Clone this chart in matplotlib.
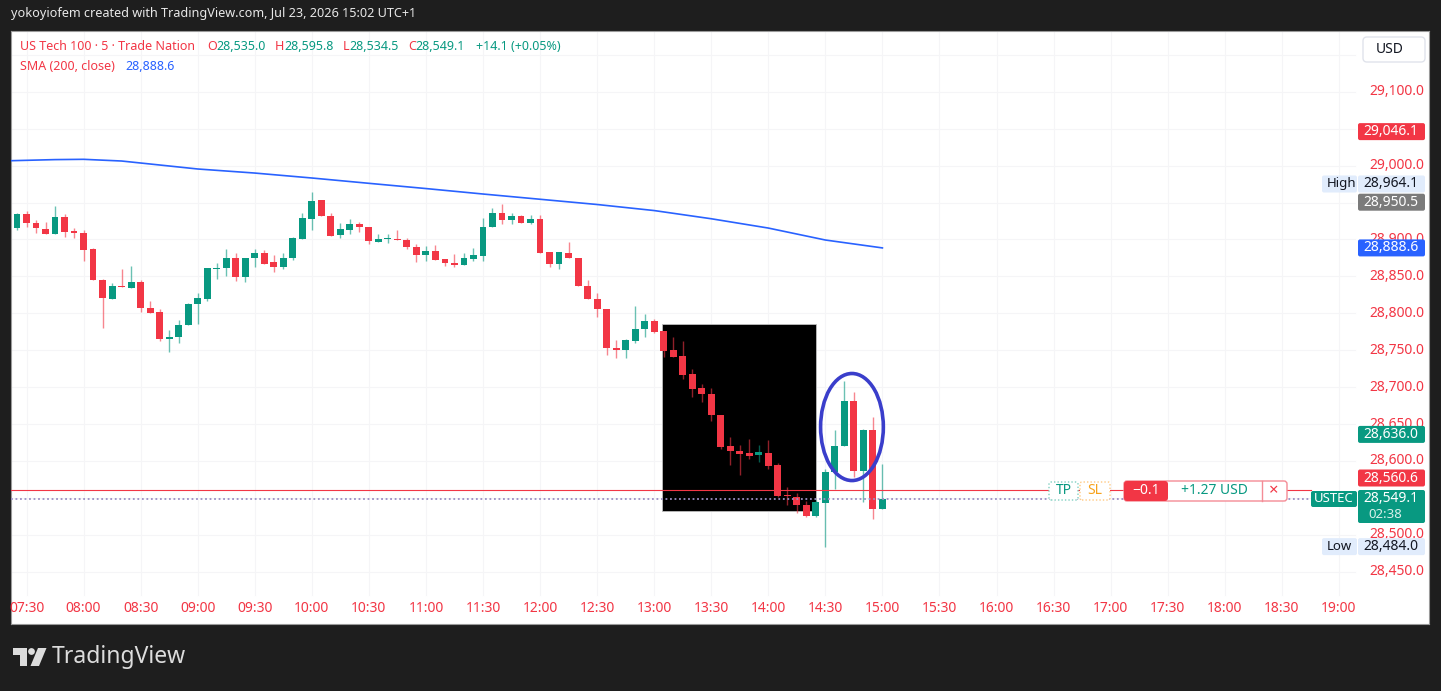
import numpy as np
import pandas as pd
import matplotlib
matplotlib.use("Agg")
import matplotlib.pyplot as plt
from matplotlib.patches import Rectangle, Ellipse, FancyBboxPatch, Circle, Polygon
from matplotlib.transforms import IdentityTransform

W, H = 1441, 691

RED = "#f23645"
GREEN = "#089981"
BLUE = "#2962ff"
DARK = "#1e1e1e"

# velas de 5 minutos, desde las 07:20
first_bar = "2026-07-23 07:20"
opens = [28928.9, 28915.4, 28934.4, 28922.1, 28914.4, 28907.6, 28929.8, 28911.7, 28909.4, 28886.8,
         28845.1, 28819.3, 28837.4, 28834.9, 28842.0, 28807.5, 28802.0, 28765.4, 28767.6, 28784.0,
         28812.5, 28818.9, 28860.1, 28861.0, 28875.4, 28849.6, 28874.6, 28882.2, 28869.1, 28862.3,
         28874.6, 28900.8, 28928.0, 28952.9, 28932.1, 28906.3, 28913.0, 28921.2, 28916.7, 28897.2,
         28900.4, 28901.3, 28899.5, 28889.5, 28879.1, 28884.5, 28873.6, 28867.8, 28865.1, 28873.6,
         28878.1, 28917.5, 28935.7, 28926.6, 28932.5, 28923.0, 28927.6, 28882.7, 28866.8, 28882.2,
         28874.6, 28837.0, 28818.9, 28805.3, 28753.7, 28750.0, 28762.7, 28778.1, 28789.4, 28775.8,
         28750.0, 28741.8, 28717.4, 28698.8, 28691.1, 28662.6, 28620.5, 28614.1, 28610.5, 28608.3,
         28611.4, 28594.7, 28553.0, 28551.6, 28540.8, 28525.8, 28542.5, 28584.6, 28620.9, 28681.1,
         28586.0, 28641.3, 28535.0]
highs = [28931.0, 28936.5, 28938.9, 28926.6, 28924.3, 28945.7, 28934.4, 28916.2, 28913.0, 28888.2,
         28847.0, 28840.6, 28859.6, 28864.1, 28845.1, 28816.6, 28805.3, 28777.2, 28790.8, 28813.4,
         28827.0, 28861.0, 28867.8, 28886.8, 28881.4, 28875.4, 28886.8, 28885.9, 28878.7, 28882.2,
         28903.9, 28936.5, 28964.1, 28953.8, 28935.7, 28922.1, 28927.6, 28924.3, 28916.7, 28907.6,
         28907.6, 28913.0, 28902.6, 28894.0, 28891.3, 28892.7, 28873.6, 28880.0, 28882.2, 28889.1,
         28928.9, 28942.5, 28947.4, 28935.7, 28933.4, 28933.4, 28933.4, 28882.7, 28883.6, 28897.2,
         28874.6, 28845.1, 28827.9, 28805.3, 28763.6, 28765.9, 28809.8, 28798.5, 28791.7, 28775.8,
         28767.3, 28762.6, 28724.2, 28703.8, 28699.3, 28662.6, 28632.2, 28622.3, 28630.0, 28621.0,
         28628.7, 28597.4, 28564.3, 28556.1, 28546.2, 28547.2, 28589.3, 28642.2, 28708.3, 28693.4,
         28643.6, 28659.4, 28595.8]
lows = [28913.0, 28913.0, 28916.7, 28908.6, 28907.6, 28907.6, 28904.0, 28901.8, 28871.3, 28845.1,
        28780.8, 28819.3, 28835.2, 28834.9, 28802.0, 28799.9, 28762.6, 28747.7, 28759.9, 28784.0,
        28784.9, 28816.6, 28846.1, 28850.5, 28844.2, 28842.8, 28863.2, 28866.8, 28856.4, 28860.1,
        28872.3, 28900.8, 28913.0, 28932.1, 28905.3, 28902.6, 28907.2, 28910.7, 28893.6, 28896.3,
        28895.0, 28899.0, 28886.8, 28870.0, 28871.3, 28872.3, 28864.1, 28863.2, 28865.1, 28871.3,
        28871.3, 28917.5, 28920.8, 28920.8, 28923.0, 28920.8, 28882.2, 28862.4, 28859.6, 28874.6,
        28837.0, 28818.9, 28795.2, 28743.2, 28739.5, 28739.5, 28759.9, 28768.1, 28772.7, 28740.9,
        28740.9, 28710.6, 28686.5, 28679.8, 28654.0, 28616.4, 28594.7, 28581.1, 28602.9, 28598.2,
        28589.3, 28550.7, 28540.8, 28529.0, 28524.4, 28523.5, 28484.0, 28562.1, 28620.9, 28577.9,
        28543.9, 28521.3, 28534.5]
closes = [28915.4, 28934.8, 28922.1, 28915.4, 28907.6, 28929.8, 28910.7, 28908.6, 28885.9, 28845.1,
          28820.2, 28837.4, 28835.2, 28842.0, 28806.7, 28800.7, 28764.9, 28768.1, 28784.0, 28812.5,
          28820.2, 28861.0, 28861.4, 28875.4, 28849.6, 28875.4, 28882.2, 28866.8, 28863.2, 28875.4,
          28901.8, 28928.9, 28951.5, 28932.1, 28905.3, 28914.0, 28921.2, 28916.7, 28898.5, 28900.4,
          28901.3, 28899.5, 28889.5, 28879.1, 28884.5, 28872.3, 28867.8, 28865.1, 28874.6, 28879.1,
          28917.5, 28935.7, 28926.6, 28932.1, 28923.0, 28927.6, 28882.2, 28866.8, 28883.6, 28874.6,
          28837.0, 28818.9, 28805.7, 28753.7, 28750.0, 28763.6, 28778.1, 28789.4, 28774.9, 28749.0,
          28740.9, 28716.0, 28697.9, 28690.2, 28661.7, 28619.6, 28613.2, 28609.6, 28607.3, 28611.9,
          28593.7, 28552.0, 28552.0, 28540.8, 28525.8, 28543.9, 28584.6, 28620.9, 28681.1, 28586.0,
          28641.3, 28535.0, 28549.1]

# SMA 200
sma_times = ["07:20", "07:45", "08:00", "08:20", "08:40", "09:00", "09:30", "10:00", "10:30",
             "11:00", "11:30", "12:00", "12:30", "13:00", "13:30", "14:00", "14:30", "15:00"]
sma_vals = [29006.6, 29008.2, 29008.6, 29006.3, 29000.9, 28995.5, 28990.0, 28983.3, 28976.1,
            28969.0, 28961.6, 28954.5, 28947.4, 28939.2, 28928.1, 28915.5, 28899.3, 28888.6]

time_labels = ["07:30", "08:00", "08:30", "09:00", "09:30", "10:00", "10:30", "11:00", "11:30",
               "12:00", "12:30", "13:00", "13:30", "14:00", "14:30", "15:00", "15:30", "16:00",
               "16:30", "17:00", "17:30", "18:00", "18:30", "19:00"]
price_ticks = [29100, 29000, 28900, 28850, 28800, 28750, 28700, 28650, 28600, 28500, 28450]

entry_price = 28560.6
last_price = 28549.1

# dibujos
box_start, box_end = "13:04", "14:25"
box_low, box_high = 28532.6, 28785.5
ell_center, ell_price = "14:44", 28646.0
ell_minutes, ell_points = 33.0, 145.0


def bar_x(hhmm):
    h, m = hhmm.split(":")
    return ((int(h) - 7) * 60 + int(m) - 30) / 5.0


times = pd.date_range(first_bar, periods=len(opens), freq="5min")
xs = ((times - pd.Timestamp("2026-07-23 07:30")).total_seconds() / 300).to_numpy()
o = np.array(opens); h_ = np.array(highs); l_ = np.array(lows); c = np.array(closes)
up = c >= o

plt.rcParams['font.family'] = ['Noto Sans', 'DejaVu Sans']

fig = plt.figure(figsize=(W / 100, H / 100), dpi=100, facecolor=DARK)
ax = fig.add_axes([11 / W, (H - 624) / H, (1429 - 11) / W, (624 - 31) / H])
ax.set_facecolor("white")
X0, BAR = 26.5, 9.51
ax.set_xlim((11 - X0) / BAR, (1429 - X0) / BAR)
ax.set_ylim(28379.2, 29182.4)
ax.set_xticks([]); ax.set_yticks([])
for s in ax.spines.values():
    s.set_color("#9a9a9a"); s.set_linewidth(0.8)

# rejilla tenue
xmax_plot = (1355 - X0) / BAR
for lab in time_labels:
    ax.plot([bar_x(lab)] * 2, [28418, 29182], color="#f5f5f7", lw=0.8, zorder=0)
for p in range(28450, 29151, 50):
    ax.plot([-2, xmax_plot], [p, p], color="#f5f5f7", lw=0.8, zorder=0)

# rectángulo negro
ax.add_patch(Rectangle((bar_x(box_start), box_low), bar_x(box_end) - bar_x(box_start),
                       box_high - box_low, fc="black", ec="#bdbdbd", lw=0.6, zorder=1))

# velas
cols = np.where(up, GREEN, RED)
ax.vlines(xs, l_, h_, colors=cols, lw=1.0, alpha=0.6, zorder=2)
body_lo = np.minimum(o, c)
body_h = np.maximum(np.abs(c - o), 1.4)
ax.bar(xs, body_h, bottom=body_lo, width=0.72, color=cols, lw=0, zorder=3)

# SMA
ax.plot([bar_x(t) for t in sma_times], sma_vals, color=BLUE, lw=1.2, zorder=4)

# líneas de posición
ax.axhline(entry_price, xmax=(1311 - 11) / (1429 - 11), color=RED, lw=0.8, zorder=5)
ax.axhline(last_price, xmax=(1311 - 11) / (1429 - 11), color="#9b8fc4", lw=1.3,
           ls=(0, (1, 1.5)), zorder=5)

# elipse azul
ax.add_patch(Ellipse((bar_x(ell_center), ell_price), ell_minutes / 5.0, ell_points,
                     fill=False, ec="#3a3ecb", lw=2.6, zorder=6))

# eje de tiempo
for lab in time_labels:
    ax.text(bar_x(lab), (624 - 609) / (624 - 31), lab, transform=ax.get_xaxis_transform(),
            ha="center", va="center", color=RED, fontsize=10,
            fontweight="bold" if lab.endswith("00") else "normal")


def py(p):
    return H - ax.transData.transform((0, p))[1]


def box(x0, y0, x1, y1, fc, ec=None, lw=0, ls="-", r=2, z=5):
    fig.add_artist(FancyBboxPatch((x0, H - y1), x1 - x0, y1 - y0,
                                  boxstyle=f"round,pad=0,rounding_size={r}", fc=fc,
                                  ec=ec if ec else fc, lw=lw, ls=ls,
                                  transform=IdentityTransform(), zorder=z))


def ptext(x, y, s, color, size=9.5, ha="left", weight="normal", z=6):
    return fig.text(x / W, 1 - y / H, s, color=color, fontsize=size, ha=ha, va="center",
                    fontweight=weight, zorder=z)


# eje de precios (algunas quedan tapadas en parte por las etiquetas, como en el original)
for p in price_ticks:
    ptext(1424, py(p), f"{p:,.1f}", RED, size=10, ha="right", z=4)

right_labels = [
    ("29,046.1", py(29046.1), RED, "white"),
    ("28,964.1", 184, "#e1ecfc", "#131722"),
    ("28,950.5", py(28950.5), "#7b7b7b", "white"),
    ("28,888.6", py(28888.6), BLUE, "white"),
    ("28,636.0", py(28636.0), GREEN, "white"),
    ("28,560.6", 478, RED, "white"),
    ("28,484.0", py(28484.0), "#e1ecfc", "#131722"),
]
for s, yc, fc, tc in right_labels:
    box(1358, yc - 8.5, 1425, yc + 8.5, fc)
    ptext(1363, yc, s, tc, size=10)
box(1322, 184 - 8.5, 1357, 184 + 8.5, "#e1ecfc")
ptext(1327, 184, "High", "#131722", size=9.5)
box(1322, py(28484.0) - 8.5, 1357, py(28484.0) + 8.5, "#e1ecfc")
ptext(1327, py(28484.0), "Low", "#131722", size=9.5)

# precio actual
box(1358, 490, 1425, 523, GREEN)
ptext(1363, 499, f"{last_price:,.1f}", "white", size=10)
ptext(1368, 514, "02:38", "#d8f0ea", size=9.5)
box(1311, 491, 1357, 507, GREEN)
ptext(1334, 499, "USTEC", "white", size=9.5, ha="center", weight="bold")

# caja USD
box(1363, 37, 1425, 62, "white", ec="#e0e3eb", lw=1, r=4)
ptext(1376, 49.5, "USD", "#131722", size=10)

# caja TP / SL / P&L
yb = 491
box(1049, yb - 9, 1078, yb + 9, "white", ec="#7fcfc0", lw=1, ls=(0, (1, 1.5)))
ptext(1063.5, yb, "TP", GREEN, size=10, ha="center")
box(1080, yb - 9, 1110, yb + 9, "white", ec="#ffc880", lw=1, ls=(0, (1, 1.5)))
ptext(1095, yb, "SL", "#f7a21b", size=10, ha="center")
box(1124, yb - 10, 1287, yb + 10, "white", ec="#f48c96", lw=1, r=3)
box(1124, yb - 10, 1168, yb + 10, RED, r=3)
ptext(1146, yb, "−0.1", "white", size=10, ha="center", weight="bold")
ptext(1214, yb, "+1.27 USD", GREEN, size=10, ha="center")
fig.add_artist(plt.Line2D([1262, 1262], [H - yb - 10, H - yb + 10], color="#f48c96", lw=1,
                          transform=IdentityTransform(), zorder=6))
ptext(1274, yb, "×", RED, size=12, ha="center")

# cabecera
rend = fig.canvas.get_renderer()


def seq(x, y, parts, size):
    for s, col in parts:
        t = ptext(x, y, s, col, size=size)
        x += t.get_window_extent(rend).width


HS = 9.0
ptext(11, 14, "yokoyiofem created with TradingView.com, Jul 23, 2026 15:02 UTC+1", "#e8e8e8",
      size=9.1)
seq(20, 47, [("US Tech 100 · 5 · Trade Nation", RED)], HS)
seq(207, 47, [("O", RED), ("28,535.0", GREEN)], HS)
seq(275, 47, [("H", RED), ("28,595.8", GREEN)], HS)
seq(343, 47, [("L", RED), ("28,534.5", GREEN)], HS)
seq(408, 47, [("C", RED), ("28,549.1", GREEN)], HS)
ptext(476, 47, "+14.1 (+0.05%)", GREEN, size=HS)
ptext(20, 66, "SMA (200, close)", RED, size=HS)
ptext(125, 66, "28,888.6", BLUE, size=HS)

# logo TradingView
LOGO = "#dcdcdc"
fig.add_artist(Polygon([(13, H - 648), (27, H - 648), (27, H - 666), (20, H - 666),
                        (20, H - 655), (13, H - 655)], closed=True, fc=LOGO, lw=0,
                       transform=IdentityTransform()))
fig.add_artist(Circle((31.5, H - 651.5), 3.4, fc=LOGO, lw=0, transform=IdentityTransform()))
fig.add_artist(Polygon([(38, H - 648), (46.5, H - 648), (39, H - 666), (30.5, H - 666)],
                       closed=True, fc=LOGO, lw=0, transform=IdentityTransform()))
ptext(52, 657, "TradingView", LOGO, size=16.5, weight="bold")

fig.savefig("out.png", dpi=100, facecolor=DARK)
